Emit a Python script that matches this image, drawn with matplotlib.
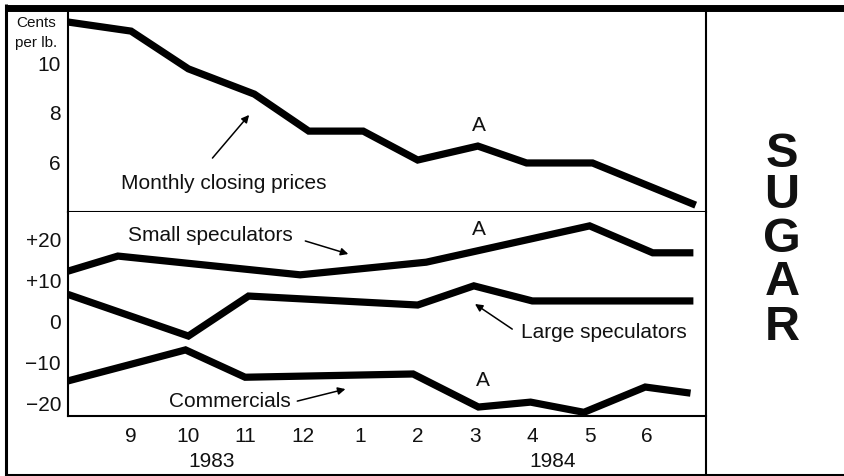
import matplotlib
matplotlib.use('Agg')
import matplotlib.pyplot as plt
from matplotlib.lines import Line2D

plt.rcParams['font.family'] = ['Liberation Sans', 'DejaVu Sans']

# months run 8 (Aug 1983) .. 18 (Jun 1984)
price_months = [7.9, 9.0, 10.0, 11.15, 12.1, 13.05, 14.0, 15.05, 15.9, 17.05, 18.85]
price_cents = [11.67, 11.3, 9.76, 8.73, 7.22, 7.22, 6.04, 6.61, 5.92, 5.92, 4.2]

small_months = [7.9, 8.77, 11.95, 14.15, 17.0, 18.1, 18.81]
small_pos = [12.1, 15.8, 11.2, 14.3, 23.2, 16.6, 16.6]

large_months = [7.9, 10.0, 11.05, 14.0, 14.98, 16.0, 18.81]
large_pos = [6.4, -3.8, 6.0, 3.8, 8.5, 4.8, 4.8]

comm_months = [7.9, 9.95, 10.99, 13.92, 15.06, 15.97, 16.9, 17.97, 18.76]
comm_pos = [-14.8, -7.2, -13.9, -13.1, -21.2, -20.0, -22.5, -16.3, -17.8]

month_ticks = [9, 10, 11, 12, 13, 14, 15, 16, 17, 18]
month_labels = ['9', '10', '11', '12', '1', '2', '3', '4', '5', '6']
price_ticks = [6, 8, 10]
pos_ticks = [-20, -10, 0, 10, 20]
pos_labels = ['\u221220', '\u221210', '0', '+10', '+20']

W, H = 845, 477
ink = '#111111'


def fx(x):
    return x / W


def fy(y):
    return 1 - y / H


fig = plt.figure(figsize=(W / 100, H / 100), dpi=100)
fig.patch.set_facecolor('white')

ax1 = fig.add_axes([fx(68), fy(213), (706 - 68) / W, (213 - 12) / H])
ax2 = fig.add_axes([fx(68), fy(417), (706 - 68) / W, (417 - 213) / H])

line_kw = dict(color='black', lw=5.2, solid_joinstyle='miter', solid_capstyle='butt')
ax1.plot(price_months, price_cents, **line_kw)
ax2.plot(small_months, small_pos, **line_kw)
ax2.plot(large_months, large_pos, **line_kw)
ax2.plot(comm_months, comm_pos, **line_kw)

ax1.set_xlim(7.9, 19.03)
ax2.set_xlim(7.9, 19.03)
ax1.set_ylim(3.92, 12.12)
ax2.set_ylim(-23.4, 26.6)

for ax in (ax1, ax2):
    for side in ('top', 'right'):
        ax.spines[side].set_visible(False)
    for side in ('left', 'bottom'):
        ax.spines[side].set_linewidth(1.5)
        ax.spines[side].set_color('black')
    ax.tick_params(length=0, labelsize=15, colors=ink, pad=5)

ax1.set_xticks([])
ax1.set_yticks(price_ticks)
ax1.set_yticklabels([str(t) for t in price_ticks])
ax2.set_yticks(pos_ticks)
ax2.set_yticklabels(pos_labels)
ax2.set_xticks(month_ticks)
ax2.set_xticklabels(month_labels)
ax2.tick_params(axis='x', pad=7)

# year captions under the month labels
xt = ax2.get_xaxis_transform()
ax2.text(10.41, -0.22, '1983', transform=xt, ha='center', va='center', fontsize=15, color=ink)
ax2.text(16.35, -0.22, '1984', transform=xt, ha='center', va='center', fontsize=15, color=ink)

fig.text(fx(36), fy(23), 'Cents', ha='center', va='center', fontsize=11, color=ink)
fig.text(fx(36), fy(43), 'per lb.', ha='center', va='center', fontsize=11, color=ink)

arrow = dict(arrowstyle='-|>', color='black', lw=1.1, mutation_scale=11, shrinkA=0, shrinkB=0)
txt = dict(fontsize=15, color=ink, ha='center', va='center')

ax1.text(10.61, 5.14, 'Monthly closing prices', **txt)
ax1.annotate('', xy=(11.06, 7.88), xytext=(10.42, 6.12), arrowprops=arrow)
ax1.text(15.06, 7.51, 'A', **txt)

ax2.text(10.38, 20.98, 'Small speculators', **txt)
ax2.annotate('', xy=(12.79, 16.3), xytext=(12.04, 19.5), arrowprops=arrow)
ax2.text(15.07, 22.45, 'A', **txt)
ax2.text(17.24, -2.8, 'Large speculators', **txt)
ax2.annotate('', xy=(15.0, 4.05), xytext=(15.65, -2.1), arrowprops=arrow)
ax2.text(15.14, -14.4, 'A', **txt)
ax2.text(10.73, -19.5, 'Commercials', **txt)
ax2.annotate('', xy=(12.74, -16.8), xytext=(11.9, -19.75), arrowprops=arrow)

# outer frame and divider
frame = [
    ((5, 845), (8.5, 8.5), 5.0),
    ((6.5, 6.5), (5, 477), 2.2),
    ((5, 845), (475.5, 475.5), 2.2),
    ((706, 706), (12, 475), 1.5),
]
for xs, ys, lw in frame:
    fig.add_artist(Line2D([fx(v) for v in xs], [fy(v) for v in ys],
                          transform=fig.transFigure, color='black', lw=lw,
                          solid_capstyle='butt'))

# commodity name stacked vertically
for letter, base in zip('SUGAR', [167, 208, 252, 295, 340]):
    fig.text(fx(782), fy(base), letter, ha='center', va='baseline',
             fontsize=35, fontweight='bold', color=ink)

fig.savefig('out.png', dpi=100)
